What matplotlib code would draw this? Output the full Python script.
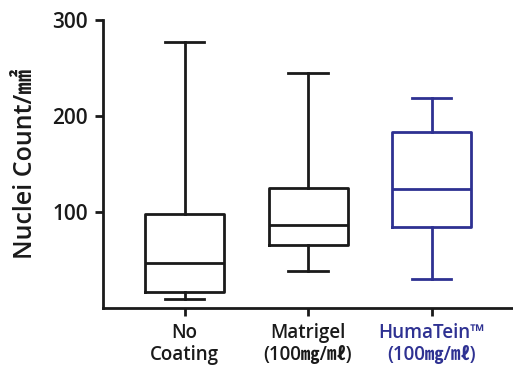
import matplotlib
matplotlib.use('Agg')
import matplotlib.pyplot as plt

matplotlib.rcParams['font.family'] = ['Open Sans', 'Noto Sans CJK KR', 'DejaVu Sans']

groups = ['No\nCoating', 'Matrigel\n(100㎎/㎖)', 'HumaTein™\n(100㎎/㎖)']
whislo = [9, 38, 30]
q1 = [17, 66, 84]
med = [47, 86, 124]
q3 = [98, 125, 183]
whishi = [277, 245, 219]
colors = ['#1a1a1a', '#1a1a1a', '#2e3192']

fig = plt.figure(figsize=(5.13, 3.67), dpi=100)
ax = fig.add_axes([0.201, 0.161, 0.799, 0.785])

stats = []
for i in range(3):
    stats.append(dict(whislo=whislo[i], q1=q1[i], med=med[i], q3=q3[i],
                      whishi=whishi[i], fliers=[], label=groups[i]))

for i, s in enumerate(stats):
    c = colors[i]
    lp = dict(color=c, linewidth=2)
    ax.bxp([s], positions=[i + 1], widths=0.64, showfliers=False,
           boxprops=lp, whiskerprops=lp, capprops=lp, medianprops=lp,
           capwidths=0.32)

ax.set_xlim(0.34, 3.66)
ax.set_ylim(0, 300)
ax.set_yticks([100, 200, 300])
ax.set_xticks([1, 2, 3])
ax.set_xticklabels(groups, fontsize=13.5, fontweight='semibold', linespacing=1.15)
ax.tick_params(axis='y', labelsize=15, width=2, length=6, colors='#1a1a1a', pad=5)
ax.tick_params(axis='x', width=2, length=6, colors='#1a1a1a', pad=5)
for lbl, c in zip(ax.get_xticklabels(), colors):
    lbl.set_color(c)
for lbl in ax.get_yticklabels():
    lbl.set_fontweight('semibold')

ax.spines['top'].set_visible(False)
ax.spines['right'].set_visible(False)
ax.spines['left'].set_linewidth(2)
ax.spines['bottom'].set_linewidth(2)
ax.spines['left'].set_color('#1a1a1a')
ax.spines['bottom'].set_color('#1a1a1a')

ax.set_ylabel('Nuclei Count/㎟', fontsize=18, fontweight='semibold', color='#1a1a1a', labelpad=10)

fig.savefig('out.png', dpi=100)
